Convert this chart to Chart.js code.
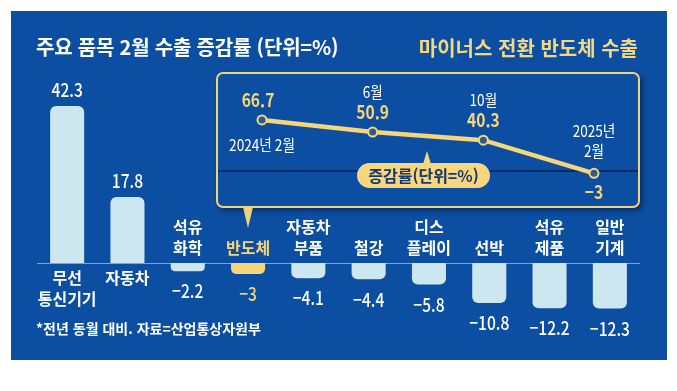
<!DOCTYPE html>
<html lang="ko">
<head>
<meta charset="utf-8">
<script src="https://cdn.jsdelivr.net/npm/chart.js@4.4.1/dist/chart.umd.min.js"></script>
<style>
  body { margin: 0; background: #fff; width: 677px; height: 391px; position: relative; overflow: hidden;
         font-family: 'Noto Sans CJK KR', 'Noto Sans', sans-serif; }
  #panel { position: absolute; left: 11px; top: 11px; width: 656px; height: 349px; background: #0b4ea2; }
  #barChart { position: absolute; left: 0; top: 0; }
  .title { position: absolute; font-weight: bold; font-size: 20px; line-height: 24px; white-space: nowrap; }
  #titleLeft { left: 25px; top: 24px; color: #fff; letter-spacing: -0.2px; }
  #titleRight { right: 29px; top: 25px; color: #f6d77c; }
  #insetBox { position: absolute; left: 205px; top: 61px; width: 424px; height: 136px; box-sizing: border-box;
              border: 2px solid #f3d27a; border-radius: 7px; background: #0b4ea2;
              box-shadow: 3px 3px 4px rgba(0, 25, 70, 0.55); }
  #lineChart { position: absolute; left: 205px; top: 61px; }
  #insetTip { position: absolute; left: 232px; top: 196px; width: 0; height: 0;
              border-left: 5px solid transparent; border-right: 5px solid transparent; border-top: 21px solid #f3d27a; }
  #pill { position: absolute; left: 346px; top: 152px; width: 133px; height: 25px; border-radius: 13px;
          background: #f7d67e; color: #17386b; font-weight: bold; font-size: 16px; line-height: 25px; text-align: center; }
  #pillTip { position: absolute; left: 412px; top: 140px; width: 0; height: 0;
             border-left: 4px solid transparent; border-right: 4px solid transparent; border-bottom: 13px solid #f7d67e; }
  #note { position: absolute; left: 25px; top: 308px; color: #fff; font-weight: bold; font-size: 14px; line-height: 18px; white-space: nowrap; }
</style>
</head>
<body>
<div id="panel">
  <canvas id="barChart" width="656" height="349"></canvas>
  <div class="title" id="titleLeft">주요 품목 2월 수출 증감률 (단위=%)</div>
  <div class="title" id="titleRight">마이너스 전환 반도체 수출</div>
  <div id="insetBox"></div>
  <div id="insetTip"></div>
  <canvas id="lineChart" width="424" height="136"></canvas>
  <div id="pillTip"></div>
  <div id="pill">증감률(단위=%)</div>
  <div id="note">*전년 동월 대비. 자료=산업통상자원부</div>
</div>
<script>
// Bar chart data: February export change by item (%)
const categories = [['무선', '통신기기'], ['자동차'], ['석유', '화학'], ['반도체'], ['자동차', '부품'],
                    ['철강'], ['디스', '플레이'], ['선박'], ['석유', '제품'], ['일반', '기계']];
const changeRates = [42.3, 17.8, -2.2, -3, -4.1, -4.4, -5.8, -10.8, -12.2, -12.3];
const highlightItem = '반도체';

// Inset line data: semiconductor export change (%)
const trendMonths = [['2024년 2월'], ['6월'], ['10월'], ['2025년', '2월']];
const trendRates = [66.7, 50.9, 40.3, -3];

const LIGHT = '#cce7ef';
const YELLOW = '#f7d67a';
const NUM_FONT = "'Noto Sans CJK KR', sans-serif";
const KR_FONT = "'Noto Sans CJK KR', sans-serif";

function fmt(v) {
    return String(v).replace('-', '\u2212');
}

function isHighlight(i) {
    return categories[i].join('') === highlightItem;
}

// draw text squeezed horizontally, to look like the condensed face of the original
function condensedText(ctx, text, x, y, sx) {
    ctx.save();
    ctx.translate(x, y);
    ctx.scale(sx, 1);
    ctx.fillText(text, 0, 0);
    ctx.restore();
}

// Baseline, value labels and category labels for the bars
const barLabels = {
    id: 'barLabels',
    beforeDatasetsDraw(chart) {
        const ctx = chart.ctx;
        const y0 = chart.scales.y.getPixelForValue(0);
        ctx.save();
        ctx.strokeStyle = 'rgba(160, 200, 235, 0.75)';
        ctx.lineWidth = 1;
        ctx.beginPath();
        ctx.moveTo(chart.chartArea.left, y0 + 0.5);
        ctx.lineTo(chart.chartArea.right, y0 + 0.5);
        ctx.stroke();
        ctx.restore();
    },
    afterDatasetsDraw(chart) {
        const ctx = chart.ctx;
        const y0 = chart.scales.y.getPixelForValue(0);
        const meta = chart.getDatasetMeta(0);
        ctx.save();
        ctx.textAlign = 'center';
        ctx.textBaseline = 'middle';
        meta.data.forEach((bar, i) => {
            const v = changeRates[i];
            ctx.fillStyle = isHighlight(i) ? YELLOW : '#ffffff';
            // value
            ctx.font = '500 19px ' + NUM_FONT;
            const vy = v >= 0 ? bar.y - 16 : bar.y + 20;
            condensedText(ctx, fmt(v), bar.x, vy, 0.82);
            // category name
            ctx.font = 'bold 16px ' + KR_FONT;
            const lines = categories[i];
            lines.forEach((line, j) => {
                const y = v >= 0 ? y0 + 15 + j * 21 : y0 - 15 - (lines.length - 1 - j) * 21;
                ctx.fillText(line, bar.x, y);
            });
        });
        ctx.restore();
    }
};

// Zero line and point labels for the inset
const lineLabels = {
    id: 'lineLabels',
    beforeDatasetsDraw(chart) {
        const ctx = chart.ctx;
        const y0 = chart.scales.y.getPixelForValue(0);
        ctx.save();
        ctx.strokeStyle = '#0a2b62';
        ctx.lineWidth = 2;
        ctx.beginPath();
        ctx.moveTo(2, y0);
        ctx.lineTo(chart.width - 2, y0);
        ctx.stroke();
        ctx.restore();
    },
    afterDatasetsDraw(chart) {
        const ctx = chart.ctx;
        const meta = chart.getDatasetMeta(0);
        ctx.save();
        ctx.textAlign = 'center';
        ctx.textBaseline = 'middle';
        meta.data.forEach((pt, i) => {
            const v = trendRates[i];
            ctx.fillStyle = YELLOW;
            ctx.font = 'bold 19px ' + NUM_FONT;
            const valueY = v >= 0 ? pt.y - 20 : pt.y + 18;
            condensedText(ctx, fmt(v), pt.x - (i === 0 ? 4 : 0), valueY, 0.82);

            ctx.fillStyle = '#ffffff';
            ctx.font = '16px ' + NUM_FONT;
            const lines = trendMonths[i];
            lines.forEach((line, j) => {
                let y;
                if (i === 0) {
                    y = pt.y + 25 + j * 20;
                } else {
                    const bottom = v >= 0 ? pt.y - 40 : pt.y - 22;
                    y = bottom - (lines.length - 1 - j) * 20;
                }
                condensedText(ctx, line, pt.x, y, 0.85);
            });
        });
        ctx.restore();
    }
};

new Chart(document.getElementById('barChart'), {
    type: 'bar',
    data: {
        labels: categories,
        datasets: [{
            data: changeRates,
            backgroundColor: changeRates.map((v, i) => isHighlight(i) ? YELLOW : LIGHT),
            borderRadius: 6,
            borderSkipped: 'start',
            barPercentage: 0.565,
            categoryPercentage: 1
        }]
    },
    options: {
        responsive: false,
        animation: false,
        events: [],
        layout: { padding: { left: 26, right: 27, top: 66.4, bottom: 22.8 } },
        plugins: { legend: { display: false }, tooltip: { enabled: false } },
        scales: {
            x: { display: false },
            y: { display: false, min: -20, max: 50 }
        }
    },
    plugins: [barLabels]
});

new Chart(document.getElementById('lineChart'), {
    type: 'line',
    data: {
        labels: trendMonths,
        datasets: [{
            data: trendRates,
            borderColor: YELLOW,
            borderWidth: 4.5,
            tension: 0,
            pointRadius: 4.5,
            pointBackgroundColor: '#2d5b8e',
            pointBorderColor: YELLOW,
            pointBorderWidth: 2,
            clip: false
        }]
    },
    options: {
        responsive: false,
        animation: false,
        events: [],
        layout: { padding: { left: 46, right: 46, top: 37.8, bottom: 21.7 } },
        plugins: { legend: { display: false }, tooltip: { enabled: false } },
        scales: {
            x: { display: false },
            y: { display: false, min: -20, max: 80 }
        }
    },
    plugins: [lineLabels]
});
</script>
</body>
</html>
